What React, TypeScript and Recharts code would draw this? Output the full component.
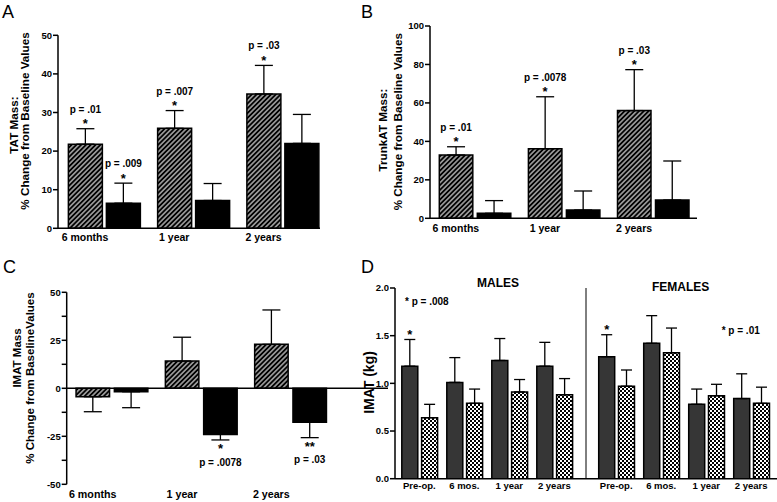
import React from 'react';
import { BarChart, Bar, XAxis, YAxis, ErrorBar, LabelList, ReferenceLine } from 'recharts';

const FONT = '"Liberation Sans", Arial, Helvetica, sans-serif';
const W = 777;
const H = 502;

// ---------- Panels A–C: time points ----------
const timepoints = ['6 months', '1 year', '2 years'];

// A: TAT mass (% change)
const tatStriped = [21.8, 25.9, 34.8];
const tatStripedErr = [4.0, 4.6, 7.4];
const tatSolid = [6.5, 7.2, 22.0];
const tatSolidErr = [5.2, 4.4, 7.5];
const tatStripedStars = ['*', '*', '*'];
const tatStripedP = ['p = .01', 'p = .007', 'p = .03'];
const tatSolidStars = ['*', '', ''];
const tatSolidP = ['p = .009', '', ''];

// B: TrunkAT mass (% change)
const trunkStriped = [32.9, 36.2, 56.0];
const trunkStripedErr = [4.3, 27.0, 21.3];
const trunkSolid = [2.6, 4.3, 9.5];
const trunkSolidErr = [6.6, 9.9, 20.3];
const trunkStripedStars = ['*', '*', '*'];
const trunkStripedP = ['p = .01', 'p = .0078', 'p = .03'];

// C: IMAT mass (% change)
const imatStriped = [-4.4, 14.2, 22.9];
const imatStripedErr = [7.8, 12.4, 17.9];
const imatSolid = [-1.8, -24.0, -17.7];
const imatSolidErr = [8.3, 2.9, 8.0];
const imatSolidStars = ['', '*', '**'];
const imatSolidP = ['', 'p = .0078', 'p = .03'];

// D: IMAT (kg)
const periods = ['Pre-op.', '6 mos.', '1 year', '2 years'];
const maleDark = [1.18, 1.01, 1.24, 1.18];
const maleDarkErr = [0.28, 0.26, 0.23, 0.25];
const maleChecked = [0.64, 0.79, 0.91, 0.88];
const maleCheckedErr = [0.14, 0.15, 0.13, 0.17];
const femaleDark = [1.28, 1.42, 0.78, 0.84];
const femaleDarkErr = [0.23, 0.29, 0.16, 0.26];
const femaleChecked = [0.97, 1.32, 0.87, 0.79];
const femaleCheckedErr = [0.17, 0.26, 0.12, 0.17];
const maleDarkStars = ['*', '', '', ''];
const femaleDarkStars = ['*', '', '', ''];

const ticksA = [0, 10, 20, 30, 40, 50];
const ticksB = [0, 20, 40, 60, 80, 100];
const ticksC = [-50, -37.5, -25, -12.5, 0, 12.5, 25, 37.5, 50];
const ticksD = [0, 0.5, 1, 1.5, 2];

const errPair = (v: number, e: number) => (v < 0 ? [e, 0] : [0, e]);

function buildRows(cats: string[], s1: number[], e1: number[], s2: number[], e2: number[]) {
  return cats.map((cat, i) => ({
    pos: i + 1,
    idx: i,
    cat,
    s1: s1[i],
    e1: errPair(s1[i], e1[i]),
    s2: s2[i],
    e2: errPair(s2[i], e2[i]),
  }));
}

const rowsA = buildRows(timepoints, tatStriped, tatStripedErr, tatSolid, tatSolidErr);
const rowsB = buildRows(timepoints, trunkStriped, trunkStripedErr, trunkSolid, trunkSolidErr);
const rowsC = buildRows(timepoints, imatStriped, imatStripedErr, imatSolid, imatSolidErr);
const rowsMale = buildRows(periods, maleDark, maleDarkErr, maleChecked, maleCheckedErr);
const rowsFemale = buildRows(periods, femaleDark, femaleDarkErr, femaleChecked, femaleCheckedErr);

const txt = { fontFamily: FONT, fontWeight: 'bold' as const, fill: '#000' };

function makeLabel(values: number[], errs: number[], stars: string[], ptexts: string[], starSize = 13, pSize = 10) {
  return (props: any) => {
    const i = Number(props.value);
    const vb = props.viewBox && props.viewBox.width !== undefined ? props.viewBox : props;
    const x = Number(vb.x);
    const y = Number(vb.y);
    const w = Number(vb.width);
    const h = Number(vb.height);
    const v = values[i];
    if (!Number.isFinite(i) || v === undefined) return null;
    const star = stars[i] || '';
    const p = ptexts[i] || '';
    if (!star && !p) return null;
    const top = Math.min(y, y + h);
    const bottom = Math.max(y, y + h);
    const ppu = Math.abs(h) / Math.abs(v);
    const cx = x + w / 2;
    if (v >= 0) {
      const end = top - errs[i] * ppu;
      return (
        <g>
          {star && <text x={cx} y={end - 0.5} textAnchor="middle" fontSize={starSize} {...txt}>{star}</text>}
          {p && <text x={cx} y={end - 16} textAnchor="middle" fontSize={pSize} {...txt}>{p}</text>}
        </g>
      );
    }
    const end = bottom + errs[i] * ppu;
    return (
      <g>
        {star && <text x={cx} y={end + 13.5} textAnchor="middle" fontSize={starSize} {...txt}>{star}</text>}
        {p && <text x={cx} y={end + 25.6} textAnchor="middle" fontSize={pSize} {...txt}>{p}</text>}
      </g>
    );
  };
}

const makeXTick = (labelOf: (v: any) => string, dx: number, dy: number, fontSize: number) => (props: any) => {
  const { x, y, payload } = props;
  return (
    <text x={Number(x) + dx} y={Number(y) + dy} dy="0.71em" textAnchor="middle" fontSize={fontSize} {...txt}>
      {labelOf(payload.value)}
    </text>
  );
};

const axisStroke = { stroke: '#000', strokeWidth: 1.5 };
const yTick = { fontSize: 9.5, fontWeight: 'bold', fill: '#000', fontFamily: FONT };

const Abs: React.FC<{ children: React.ReactNode }> = ({ children }) => (
  <div style={{ position: 'absolute', left: 0, top: 0, width: W, height: H }}>{children}</div>
);

export default function App() {
  return (
    <div style={{ position: 'absolute', left: 0, top: 0, width: W, height: H, background: '#fff', overflow: 'hidden' }}>
      <svg width={0} height={0} style={{ position: 'absolute' }}>
        <defs>
          <pattern id="hatch" patternUnits="userSpaceOnUse" width={3.4} height={3.4} patternTransform="rotate(45)">
            <rect width={3.4} height={3.4} fill="#000" />
            <line x1={1.7} y1={0} x2={1.7} y2={3.4} stroke="#fff" strokeWidth={1.0} />
          </pattern>
          <pattern id="checks" patternUnits="userSpaceOnUse" width={4} height={4}>
            <rect width={4} height={4} fill="#000" />
            <rect x={0} y={0} width={2} height={2} fill="#fff" />
            <rect x={2} y={2} width={2} height={2} fill="#fff" />
          </pattern>
        </defs>
      </svg>

      {/* Panel A */}
      <Abs>
        <BarChart width={W} height={H} data={rowsA} margin={{ top: 35.3, right: 457, bottom: 253.7, left: 18 }} barSize={34} barGap={4}>
          <XAxis type="number" dataKey="pos" domain={[0.4846, 3.4202]} allowDataOverflow ticks={[1, 2, 3]} interval={0}
            tickLine={false} tickSize={0} tickMargin={0} height={20} axisLine={axisStroke}
            tick={makeXTick((v) => timepoints[v - 1], -19, 5, 10.5)} />
          <YAxis domain={[0, 50]} allowDataOverflow ticks={ticksA} interval={0} width={40} tickSize={5} tickMargin={1}
            axisLine={axisStroke} tickLine={axisStroke} tick={yTick} />
          <Bar dataKey="s1" fill="url(#hatch)" stroke="#000" strokeWidth={1.5} isAnimationActive={false}>
            <ErrorBar dataKey="e1" width={9} stroke="#000" strokeWidth={1.3} />
            <LabelList dataKey="idx" content={makeLabel(tatStriped, tatStripedErr, tatStripedStars, tatStripedP)} />
          </Bar>
          <Bar dataKey="s2" fill="#000" stroke="#000" strokeWidth={1.5} isAnimationActive={false}>
            <ErrorBar dataKey="e2" width={9} stroke="#000" strokeWidth={1.3} />
            <LabelList dataKey="idx" content={makeLabel(tatSolid, tatSolidErr, tatSolidStars, tatSolidP)} />
          </Bar>
        </BarChart>
      </Abs>

      {/* Panel B */}
      <Abs>
        <BarChart width={W} height={H} data={rowsB} margin={{ top: 26, right: 80, bottom: 263.7, left: 390 }} barSize={33.5} barGap={4.5}>
          <XAxis type="number" dataKey="pos" domain={[0.4966, 3.4933]} allowDataOverflow ticks={[1, 2, 3]} interval={0}
            tickLine={false} tickSize={0} tickMargin={0} height={20} axisLine={axisStroke}
            tick={makeXTick((v) => timepoints[v - 1], -19, 6, 10.5)} />
          <YAxis domain={[0, 100]} allowDataOverflow ticks={ticksB} interval={0} width={40} tickSize={5} tickMargin={1}
            axisLine={axisStroke} tickLine={axisStroke} tick={yTick} />
          <Bar dataKey="s1" fill="url(#hatch)" stroke="#000" strokeWidth={1.5} isAnimationActive={false}>
            <ErrorBar dataKey="e1" width={9} stroke="#000" strokeWidth={1.3} />
            <LabelList dataKey="idx" content={makeLabel(trunkStriped, trunkStripedErr, trunkStripedStars, trunkStripedP)} />
          </Bar>
          <Bar dataKey="s2" fill="#000" stroke="#000" strokeWidth={1.5} isAnimationActive={false}>
            <ErrorBar dataKey="e2" width={9} stroke="#000" strokeWidth={1.3} />
          </Bar>
        </BarChart>
      </Abs>

      {/* Panel C */}
      <Abs>
        <BarChart width={W} height={H} data={rowsC} margin={{ top: 292.3, right: 389, bottom: 7.7, left: 26.7 }} barSize={33.5} barGap={4.8}>
          <XAxis type="number" dataKey="pos" domain={[0.496, 4.094]} allowDataOverflow ticks={[1, 2, 3]} interval={0}
            tickLine={false} tickSize={0} tickMargin={0} height={10} axisLine={false}
            tick={makeXTick((v) => timepoints[v - 1], -19, 6.4, 10.7)} />
          <YAxis domain={[-50, 50]} allowDataOverflow ticks={ticksC} interval={0} width={40} tickSize={5} tickMargin={1}
            axisLine={axisStroke} tickLine={axisStroke} tick={yTick}
            tickFormatter={(v: number) => (v % 25 === 0 ? String(v) : '')} />
          <ReferenceLine y={0} stroke="#000" strokeWidth={1.5} />
          <Bar dataKey="s1" fill="url(#hatch)" stroke="#000" strokeWidth={1.5} isAnimationActive={false}>
            <ErrorBar dataKey="e1" width={9} stroke="#000" strokeWidth={1.3} />
          </Bar>
          <Bar dataKey="s2" fill="#000" stroke="#000" strokeWidth={1.5} isAnimationActive={false}>
            <ErrorBar dataKey="e2" width={9} stroke="#000" strokeWidth={1.3} />
            <LabelList dataKey="idx" content={makeLabel(imatSolid, imatSolidErr, imatSolidStars, imatSolidP)} />
          </Bar>
        </BarChart>
      </Abs>

      {/* Panel D – males */}
      <Abs>
        <BarChart width={W} height={H} data={rowsMale} margin={{ top: 288, right: 191, bottom: 13.3, left: 355 }} barSize={16} barGap={3.8}>
          <XAxis dataKey="cat" padding={{ left: 1.8, right: 9.2 }} interval={0} tickLine={false} tickSize={0} tickMargin={0}
            height={10} axisLine={axisStroke} tick={makeXTick((v) => String(v), 0, 3.8, 9.5)} />
          <YAxis domain={[0, 2]} allowDataOverflow ticks={ticksD} interval={0} width={40} tickSize={5} tickMargin={1}
            axisLine={axisStroke} tickLine={axisStroke} tick={yTick} tickFormatter={(v: number) => v.toFixed(1)} />
          <Bar dataKey="s1" fill="#363636" stroke="#000" strokeWidth={1.5} isAnimationActive={false}>
            <ErrorBar dataKey="e1" width={5.5} stroke="#000" strokeWidth={1.3} />
            <LabelList dataKey="idx" content={makeLabel(maleDark, maleDarkErr, maleDarkStars, [])} />
          </Bar>
          <Bar dataKey="s2" fill="url(#checks)" stroke="#000" strokeWidth={1.5} isAnimationActive={false}>
            <ErrorBar dataKey="e2" width={5.5} stroke="#000" strokeWidth={1.3} />
          </Bar>
        </BarChart>
      </Abs>

      {/* Panel D – females (its y-axis line is the MALES / FEMALES divider) */}
      <Abs>
        <BarChart width={W} height={H} data={rowsFemale} margin={{ top: 288, right: 0, bottom: 13.3, left: 583 }} barSize={16} barGap={3.8}>
          <XAxis dataKey="cat" padding={{ left: 7.7, right: 3.3 }} interval={0} tickLine={false} tickSize={0} tickMargin={0}
            height={10} axisLine={axisStroke} tick={makeXTick((v) => String(v), 0, 3.8, 9.5)} />
          <YAxis domain={[0, 2]} allowDataOverflow ticks={ticksD} width={3} tick={false} tickLine={false}
            axisLine={{ stroke: '#000', strokeWidth: 1 }} />
          <Bar dataKey="s1" fill="#363636" stroke="#000" strokeWidth={1.5} isAnimationActive={false}>
            <ErrorBar dataKey="e1" width={5.5} stroke="#000" strokeWidth={1.3} />
            <LabelList dataKey="idx" content={makeLabel(femaleDark, femaleDarkErr, femaleDarkStars, [])} />
          </Bar>
          <Bar dataKey="s2" fill="url(#checks)" stroke="#000" strokeWidth={1.5} isAnimationActive={false}>
            <ErrorBar dataKey="e2" width={5.5} stroke="#000" strokeWidth={1.3} />
          </Bar>
        </BarChart>
      </Abs>

      {/* Text overlay: panel letters, axis titles, annotations */}
      <svg width={W} height={H} style={{ position: 'absolute', left: 0, top: 0, pointerEvents: 'none' }}>
        <g fontFamily={FONT} fill="#000">
          <text x={2} y={17.7} fontSize={18}>A</text>
          <text x={361} y={17.7} fontSize={18}>B</text>
          <text x={3} y={272.5} fontSize={18}>C</text>
          <text x={361} y={272.5} fontSize={18}>D</text>
        </g>
        <g {...txt} textAnchor="middle">
          <text transform="translate(18.3,125) rotate(-90)" fontSize={11.7}>TAT Mass:</text>
          <text transform="translate(29,121) rotate(-90)" fontSize={11.7}>% Change from Baseline Values</text>
          <text transform="translate(386.5,130) rotate(-90)" fontSize={11.7}>TrunkAT Mass:</text>
          <text transform="translate(402,121.7) rotate(-90)" fontSize={11.7}>% Change from Baseline Values</text>
          <text transform="translate(20.7,358) rotate(-90)" fontSize={11.5}>IMAT Mass</text>
          <text transform="translate(34,378) rotate(-90)" fontSize={11.5}>% Change from BaselineValues</text>
          <text transform="translate(374,382.5) rotate(-90)" fontSize={14}>IMAT (kg)</text>
          <text x={498} y={287.3} fontSize={12}>MALES</text>
          <text x={680.7} y={290.7} fontSize={12}>FEMALES</text>
        </g>
        <g {...txt}>
          <text x={405} y={305.3} fontSize={10}>* p = .008</text>
          <text x={721.7} y={333.5} fontSize={10}>* p = .01</text>
        </g>
      </svg>
    </div>
  );
}
